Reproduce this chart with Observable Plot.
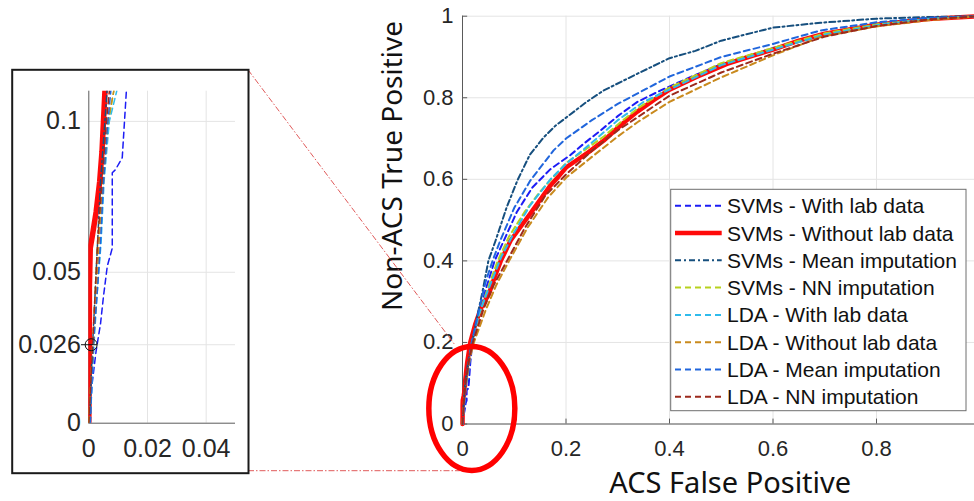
<!DOCTYPE html>
<html><head><meta charset="utf-8">
<script src="https://cdn.jsdelivr.net/npm/d3@7"></script>
<script src="https://cdn.jsdelivr.net/npm/@observablehq/plot@0.6"></script>
<style>
html,body{margin:0;padding:0;background:#fff;overflow:hidden;}
#chart{position:relative;width:974px;height:501px;overflow:hidden;}
#chart svg{position:absolute;}
</style></head><body><div id="chart"></div>
<script>
// ---- data: [false positive rate, true positive rate]
const svmLab = [[0.0005,0],[0.001,0.012],[0.0025,0.024],[0.004,0.033],[0.005,0.042],[0.0063,0.052],[0.008,0.058],[0.008,0.083],[0.0091,0.084],[0.0114,0.088],[0.0128,0.11],[0.015,0.15],[0.019,0.2],[0.03,0.26],[0.045,0.33],[0.062,0.4],[0.08,0.45],[0.105,0.52],[0.135,0.58],[0.17,0.625],[0.209,0.66],[0.234,0.687],[0.267,0.72],[0.3,0.755],[0.338,0.79],[0.383,0.818],[0.45,0.856],[0.5,0.882],[0.6,0.922],[0.7,0.957],[0.8,0.981],[0.9,0.995],[1,1]];
const svmNoLab = [[0,0],[0.0002,0.02],[0.0002,0.045],[0.0005,0.058],[0.0012,0.062],[0.0025,0.07],[0.0037,0.08],[0.0045,0.09],[0.0055,0.11],[0.009,0.15],[0.015,0.2],[0.025,0.246],[0.036,0.285],[0.051,0.319],[0.062,0.36],[0.074,0.4],[0.093,0.45],[0.112,0.483],[0.131,0.516],[0.15,0.55],[0.17,0.585],[0.185,0.606],[0.201,0.63],[0.222,0.648],[0.245,0.668],[0.273,0.695],[0.305,0.732],[0.338,0.766],[0.37,0.795],[0.4,0.82],[0.45,0.85],[0.511,0.883],[0.56,0.903],[0.6,0.918],[0.65,0.94],[0.7,0.957],[0.75,0.968],[0.8,0.979],[0.9,0.993],[1,1]];
const svmMean = [[0.0003,0],[0.001,0.02],[0.002,0.04],[0.003,0.06],[0.004,0.08],[0.0055,0.1],[0.0062,0.11],[0.012,0.16],[0.019,0.2],[0.028,0.262],[0.038,0.32],[0.05,0.4],[0.064,0.45],[0.085,0.53],[0.106,0.597],[0.13,0.66],[0.157,0.703],[0.18,0.732],[0.201,0.752],[0.24,0.79],[0.273,0.818],[0.338,0.859],[0.4,0.897],[0.45,0.915],[0.5,0.94],[0.6,0.972],[0.692,0.984],[0.8,0.994],[0.9,0.998],[1,1]];
const svmNN = [[0,0],[0.001,0.02],[0.002,0.04],[0.003,0.06],[0.0048,0.08],[0.0068,0.1],[0.0085,0.11],[0.013,0.16],[0.019,0.2],[0.03,0.26],[0.048,0.33],[0.068,0.4],[0.09,0.46],[0.12,0.52],[0.15,0.57],[0.175,0.605],[0.2,0.64],[0.24,0.675],[0.273,0.705],[0.31,0.745],[0.34,0.775],[0.4,0.825],[0.5,0.885],[0.6,0.922],[0.7,0.958],[0.8,0.98],[0.9,0.994],[1,1]];
const ldaLab = [[0.0005,0],[0.0012,0.015],[0.002,0.03],[0.003,0.045],[0.0042,0.06],[0.0052,0.08],[0.007,0.1],[0.0095,0.11],[0.014,0.16],[0.018,0.2],[0.032,0.27],[0.05,0.33],[0.075,0.41],[0.1,0.47],[0.13,0.535],[0.17,0.6],[0.2,0.638],[0.25,0.69],[0.3,0.745],[0.35,0.79],[0.4,0.82],[0.5,0.88],[0.6,0.918],[0.7,0.955],[0.8,0.978],[0.9,0.993],[1,1]];
const ldaNoLab = [[0,0],[0.0012,0.02],[0.0025,0.04],[0.0035,0.06],[0.005,0.08],[0.0065,0.1],[0.0085,0.11],[0.014,0.16],[0.022,0.2],[0.045,0.28],[0.065,0.34],[0.09,0.4],[0.125,0.48],[0.165,0.555],[0.201,0.605],[0.25,0.655],[0.3,0.705],[0.338,0.74],[0.4,0.79],[0.45,0.82],[0.5,0.85],[0.6,0.904],[0.692,0.949],[0.8,0.975],[0.9,0.99],[1,1]];
const ldaMean = [[0.0005,0],[0.0015,0.026],[0.003,0.045],[0.004,0.06],[0.005,0.08],[0.0065,0.1],[0.0075,0.11],[0.013,0.16],[0.018,0.2],[0.03,0.27],[0.045,0.35],[0.058,0.4],[0.073,0.45],[0.1,0.53],[0.131,0.597],[0.176,0.671],[0.2,0.7],[0.25,0.745],[0.3,0.785],[0.4,0.852],[0.5,0.9],[0.6,0.932],[0.692,0.965],[0.8,0.985],[0.9,0.996],[1,1]];
const ldaNN = [[0,0],[0.001,0.02],[0.002,0.04],[0.003,0.06],[0.0045,0.08],[0.006,0.1],[0.007,0.11],[0.013,0.16],[0.02,0.2],[0.04,0.28],[0.06,0.34],[0.086,0.4],[0.12,0.48],[0.16,0.56],[0.201,0.613],[0.25,0.67],[0.3,0.72],[0.338,0.752],[0.4,0.805],[0.5,0.862],[0.6,0.908],[0.7,0.95],[0.8,0.976],[0.9,0.992],[1,1]];

const seriesNames = ["SVMs - With lab data","SVMs - Without lab data","SVMs - Mean imputation","SVMs - NN imputation","LDA - With lab data","LDA - Without lab data","LDA - Mean imputation","LDA - NN imputation"];
const seriesData = [svmLab, svmNoLab, svmMean, svmNN, ldaLab, ldaNoLab, ldaMean, ldaNN];
const seriesColors = ["#1c1cf5","#ff0a0a","#164f7e","#b7d11e","#2fbbec","#c98a1e","#2166dc","#9c2a1c"];
const seriesDash = ["6,4",null,"6,3,2,3","6,4","6,4","6,4","6,4","6,4"];

const mainXTicks = [0,0.2,0.4,0.6,0.8];
const mainYTicks = [0,0.2,0.4,0.6,0.8,1];
const mainGridX = [0.2,0.4,0.6,0.8,1];
const insetXTicks = [0,0.02,0.04];
const insetYTicks = [0,0.026,0.05,0.1];
const zoomMarker = [[0.0008,0.026]];
const xTitle = "ACS False Positive";
const yTitle = "Non-ACS True Positive";

const tickFont = "'Liberation Sans', Arial, sans-serif";
const titleFont = "'Noto Sans', 'Open Sans', sans-serif";
const gridColor = "#e4e4e4", axisColor = "#5a5a5a";
const fmt = d => String(d);

// ---- main chart
const lineMarks = (lw, redW, clip) => seriesData.map((s, i) => Plot.line(s, {
  x: d => d[0], y: d => d[1], stroke: seriesColors[i],
  strokeWidth: i === 1 ? redW : lw, strokeDasharray: seriesDash[i], clip
}));

const main = Plot.plot({
  width: 974, height: 501,
  marginLeft: 462, marginRight: -5.5, marginTop: 15.7, marginBottom: 77.5,
  style: {fontFamily: tickFont, fontSize: "22px", color: "#262626", background: "white"},
  x: {domain: [0, 1]},
  y: {domain: [0, 1]},
  marks: [
    Plot.gridX(mainGridX, {stroke: gridColor, strokeOpacity: 1}),
    Plot.gridY(mainYTicks, {stroke: gridColor, strokeOpacity: 1}),
    Plot.axisX(mainXTicks, {tickSize: 0, tickPadding: 16, tickFormat: fmt, label: null, fontSize: 22, fill: "#262626"}),
    Plot.axisY(mainYTicks, {tickSize: 0, tickPadding: 9, tickFormat: fmt, label: null, fontSize: 22, fill: "#262626"}),
    Plot.ruleX(mainXTicks, {y1: 0, y2: 0.012, stroke: axisColor}),
    Plot.ruleY(mainYTicks, {x1: 0, x2: 0.01, stroke: axisColor}),
    Plot.ruleX([0], {stroke: axisColor}),
    Plot.ruleY([0], {stroke: axisColor}),
    ...lineMarks(2, 4.5, false),
    Plot.text([xTitle], {text: d => d, frameAnchor: "bottom", lineAnchor: "middle", dy: 60, dx: 9, fontSize: 29, fontFamily: titleFont, fill: "#111"})
  ]
});
main.style.left = "0px"; main.style.top = "0px";
document.getElementById("chart").appendChild(main);

const sx = main.scale("x"), sy = main.scale("y");
const g = d3.select(main).append("g");

// y axis title
g.append("text").attr("transform", "translate(392,166) rotate(-90)")
  .attr("text-anchor", "middle").attr("dy", "0.36em")
  .attr("font-family", titleFont).attr("font-size", 28).attr("fill", "#111").text(yTitle);

// connector lines from inset box to zoom ellipse
const insetBox = {x: 9, y: 67, w: 242, h: 408, l: 11.7, t: 69.3, r: 248, b: 472.7};
const ellipseCenter = [0.019, 0.037];
const ecx = sx.apply(ellipseCenter[0]), ecy = sy.apply(ellipseCenter[1]);
g.append("line").attr("x1", insetBox.r).attr("y1", insetBox.t + 0.5).attr("x2", sx.apply(-0.0135)).attr("y2", sy.apply(0.1925))
  .attr("stroke", "#e05a5a").attr("stroke-width", 1).attr("stroke-dasharray", "6,2,1.5,2");
g.append("line").attr("x1", insetBox.r).attr("y1", insetBox.b - 2).attr("x2", ecx - 12).attr("y2", insetBox.b - 2)
  .attr("stroke", "#e05a5a").attr("stroke-width", 1).attr("stroke-dasharray", "6,2,1.5,2");
g.append("ellipse").attr("cx", ecx).attr("cy", ecy).attr("rx", 43).attr("ry", 62)
  .attr("fill", "none").attr("stroke", "#ff0000").attr("stroke-width", 5.5);

// legend
const lg = g.append("g");
lg.append("rect").attr("x", 670.7).attr("y", 189.3).attr("width", 295.3).attr("height", 221.4)
  .attr("fill", "white").attr("stroke", "#6e6e6e").attr("stroke-width", 1);
seriesNames.forEach((name, i) => {
  const yy = 205.7 + i * 27.3;
  lg.append("line").attr("x1", 675).attr("x2", 721.7).attr("y1", yy).attr("y2", yy)
    .attr("stroke", seriesColors[i]).attr("stroke-width", i === 1 ? 4.5 : 2)
    .attr("stroke-dasharray", seriesDash[i]);
  lg.append("text").attr("x", 727).attr("y", yy).attr("dy", "0.36em").attr("text-anchor", "start")
    .attr("font-family", tickFont).attr("font-size", 21).attr("fill", "#111").text(name);
});

// ---- inset chart
const inset = Plot.plot({
  width: insetBox.w, height: insetBox.h,
  marginLeft: 79.3, marginRight: 16, marginTop: 23.7, marginBottom: 52.3,
  style: {fontFamily: tickFont, fontSize: "25px", color: "#262626", background: "transparent"},
  x: {domain: [0, 0.05]},
  y: {domain: [0, 0.11]},
  marks: [
    Plot.frame({fill: "white", stroke: "#1a1a1a", strokeWidth: 2, insetLeft: -76.6, insetTop: -21.4, insetRight: -13, insetBottom: -50}),
    Plot.gridX(insetXTicks.slice(1), {stroke: gridColor, strokeOpacity: 1}),
    Plot.gridY(insetYTicks.slice(1), {stroke: gridColor, strokeOpacity: 1}),
    Plot.axisX(insetXTicks, {tickSize: 0, tickPadding: 16, tickFormat: fmt, label: null, fontSize: 25, fill: "#262626"}),
    Plot.axisY(insetYTicks, {tickSize: 0, tickPadding: 8, tickFormat: fmt, label: null, fontSize: 25, fill: "#262626"}),
    Plot.ruleX([0], {stroke: axisColor}),
    Plot.ruleY([0], {stroke: axisColor}),
    ...lineMarks(1.5, 5.5, true),
    Plot.dot(zoomMarker, {x: d => d[0], y: d => d[1], r: 6, stroke: "#111", strokeWidth: 1, fill: "none"}),
    Plot.ruleY(zoomMarker, {y: d => d[1], x1: -0.0025, x2: 0.003, stroke: "#111", strokeWidth: 1})
  ]
});
inset.style.left = insetBox.x + "px"; inset.style.top = insetBox.y + "px";
document.getElementById("chart").appendChild(inset);
</script></body></html>
